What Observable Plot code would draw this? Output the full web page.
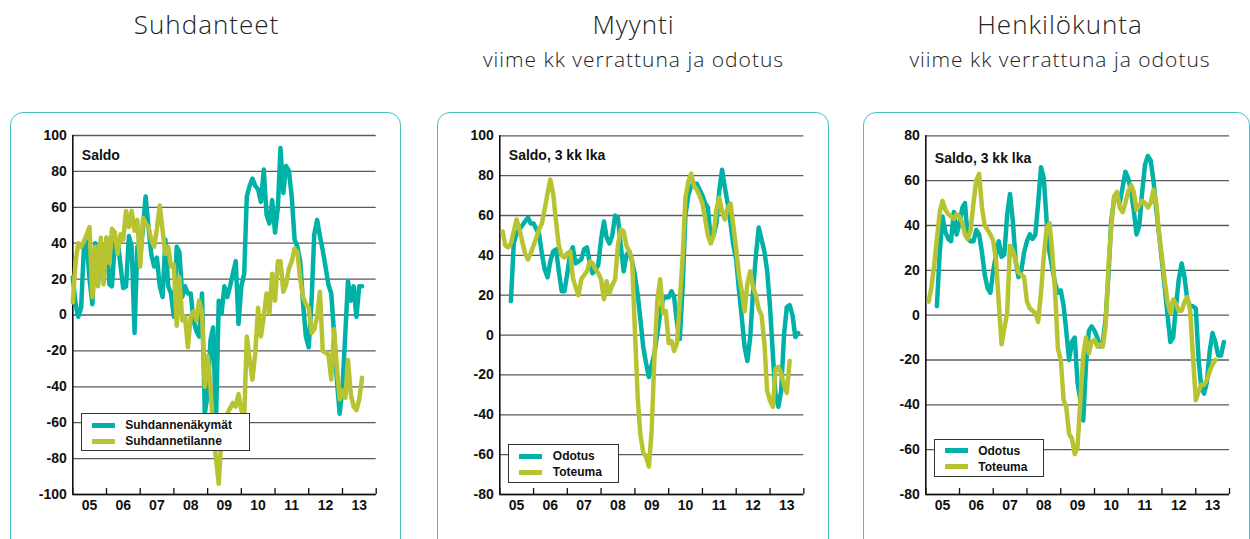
<!DOCTYPE html>
<html>
<head>
<meta charset="utf-8">
<script src="https://cdn.jsdelivr.net/npm/d3@7"></script>
<script src="https://cdn.jsdelivr.net/npm/@observablehq/plot@0.6"></script>
<style>
  html, body { margin: 0; padding: 0; background: #fff; }
  body { width: 1250px; height: 539px; overflow: hidden; position: relative; font-family: "Liberation Sans", Arial, sans-serif; }
  .title { position: absolute; font-family: "Open Sans", sans-serif; font-weight: 300; color: #222; text-align: center; white-space: nowrap; transform: translateX(-50%); letter-spacing: 1px; }
  .t1 { font-size: 26px; line-height: 30px; top: 9px; }
  .t2 { font-size: 21px; line-height: 24px; top: 47px; }
  .box { position: absolute; top: 111.5px; height: 460px; border: 1.5px solid #45c2c0; border-radius: 13px; box-sizing: border-box; z-index: 5; pointer-events: none; }
  .chart { position: absolute; top: 100px; }
  .legend { position: absolute; background: #fff; border: 1.5px solid #333; box-sizing: border-box; z-index: 4; }
  .sw { position: absolute; height: 5px; width: 23px; }
  .lt { position: absolute; font: bold 12px "Liberation Sans", Arial, sans-serif; color: #111; line-height: 14px; white-space: nowrap; }
</style>
</head>
<body>
<div id="root"></div>
<script>
// ---------- data ----------
const yearLabels = ["05", "06", "07", "08", "09", "10", "11", "12", "13"];
const titles = ["Suhdanteet", "Myynti", "Henkilökunta"];
const subtitles = ["", "viime kk verrattuna ja odotus", "viime kk verrattuna ja odotus"];
const saldoLabels = ["Saldo", "Saldo, 3 kk lka", "Saldo, 3 kk lka"];
const legend1 = ["Suhdannenäkymät", "Suhdannetilanne"];
const legend2 = ["Odotus", "Toteuma"];

// monthly values; index 0 = the start month counted from Jan 2005
const suhdannenakymatStart = 0;
const suhdannenakymat = [21, 6, -1, 4, 37, 41, 20, 6, 40, 17, 40, 23,
  43, 17, 16, 40, 42, 28, 15, 16, 44, 38, -10, 38,
  32, 49, 66, 49, 34, 27, 32, 16, 10, 42, 16, 12,
  -1, 38, 35, 10, 16, 12, 12, -3, -9, -12, 12, -55,
  -44, -14, -7, -60, 8, 1, 16, 10, 16, 23, 30, -5,
  16, 23, 66, 72, 76, 72, 70, 63, 81, 56, 51, 64,
  46, 60, 93, 68, 83, 80, 66, 42, 38, 30, 6, -12,
  -18, 8, 45, 53, 44, 36, 27, 17, 12, -10, -36, -55,
  -40, -10, 19, 8, 16, -1, 16, 16];
const suhdannetilanneStart = 0;
const suhdannetilanne = [7, 30, 40, 38, 41, 45, 49, 10, 38, 16, 43, 17,
  43, 29, 48, 46, 34, 45, 42, 58, 49, 58, 47, 53,
  27, 54, 51, 49, 42, 38, 48, 61, 47, 34, 38, 27,
  28, -6, 21, -3, -1, -18, -1, 2, -3, 8, 1, -40,
  -23, -40, -64, -80, -94, -66, -60, -55, -52, -49, -51, -44,
  -53, -57, -12, -25, -36, -21, 4, -12, -1, 12, 1, 23,
  8, 30, 30, 13, 17, 26, 30, 37, 35, 20, 10, 6,
  4, -10, -8, -1, 13, -20, -21, -22, -36, -8, -29, -47,
  -42, -46, -25, -44, -51, -53, -47, -35];

const myyntiOdotusStart = 4;
const myyntiOdotus = [17, 46, 51, 53, 55, 57, 59, 56,
  56, 53, 51, 41, 33, 29, 37, 42, 43, 32, 22, 22,
  31, 41, 44, 36, 37, 38, 43, 44, 36, 31, 33, 35,
  48, 57, 49, 46, 50, 60, 59, 45, 32, 40, 42, 37,
  30, 20, 8, -6, -14, -21, -15, -9, 1, 11, 18, 19,
  19, 22, 19, 6, -2, 24, 60, 70, 75, 76, 76, 73,
  70, 66, 64, 48, 50, 56, 72, 83, 74, 66, 56, 45,
  38, 22, 9, -6, -13, -1, 22, 40, 54, 48, 42, 32,
  14, -10, -30, -36, -28, 0, 14, 15, 10, -1, 1];
const myyntiToteumaStart = 1;
const myyntiToteuma = [52, 45, 44, 46, 52, 58, 53, 47, 41, 38, 41,
  45, 49, 53, 56, 63, 71, 78, 71, 57, 45, 40, 39,
  41, 42, 29, 24, 20, 28, 30, 32, 37, 36, 33, 31,
  28, 18, 27, 21, 25, 28, 45, 53, 52, 45, 42, 38,
  2, -32, -50, -59, -61, -66, -48, -10, 18, 28, 11, 12,
  -4, -3, -8, -4, 17, 39, 69, 77, 81, 75, 73, 70,
  66, 58, 50, 46, 50, 63, 69, 62, 58, 64, 66, 55,
  43, 30, 22, 12, 26, 32, 24, 20, 13, 10, -4, -28,
  -33, -36, -17, -16, -19, -25, -29, -13];

const henkOdotusStart = 4;
const henkOdotus = [4, 28, 44, 37, 34, 33, 46, 36,
  41, 48, 50, 34, 33, 33, 38, 36, 28, 18, 12, 10,
  20, 27, 33, 26, 27, 45, 54, 42, 24, 17, 20, 28,
  33, 36, 34, 36, 50, 66, 61, 42, 28, 21, 14, 10,
  11, 4, -7, -20, -12, -10, -30, -38, -47, -22, -7, -5,
  -7, -10, -14, -12, -2, 18, 42, 52, 52, 50, 57, 64,
  61, 55, 47, 36, 40, 55, 67, 71, 69, 60, 47, 36,
  24, 12, 0, -12, -10, 4, 16, 23, 17, 7, 4, 4,
  3, -20, -32, -35, -30, -16, -8, -12, -18, -18, -12];
const henkToteumaStart = 1;
const henkToteuma = [6, 12, 22, 34, 46, 51, 47, 45, 44, 43, 45,
  44, 41, 36, 34, 38, 50, 60, 63, 48, 40, 38, 36,
  33, 24, 6, -13, -6, 1, 31, 29, 24, 19, 18, 17,
  6, 3, 2, 1, -3, 10, 26, 39, 41, 28, 10, -15,
  -20, -38, -41, -53, -55, -62, -59, -38, -18, -10, -17, -12,
  -11, -14, -13, -14, -5, 22, 39, 53, 55, 48, 46, 50,
  55, 58, 55, 47, 49, 51, 50, 48, 50, 56, 50, 36,
  26, 15, 6, 1, 7, 5, 2, 2, 6, 8, 2, -18,
  -38, -34, -31, -31, -29, -25, -22, -20];

// ---------- helpers ----------
const TEAL = "#00b1a8";
const LIME = "#b8c332";
const toRows = (start, values) => values.map((v, i) => ({date: new Date(Date.UTC(2005, start + i, 1)), value: v}));
const yearTicks = d3.range(2005, 2015).map(y => new Date(Date.UTC(y, 0, 1)));
const yearMids = d3.range(2005, 2014).map(y => new Date(Date.UTC(y, 6, 1)));

const panels = [
  {left: 0, width: 410, mL: 72.3, mR: 34.3, mT: 35, mB: 45, y: [-100, 100], box: [10, 391],
   a: toRows(suhdannenakymatStart, suhdannenakymat), b: toRows(suhdannetilanneStart, suhdannetilanne),
   labelDy: 20, legend: legend1, lg: {x: 80.7, y: 413.3, w: 169, h: 38}, titleX: 206.5},
  {left: 430, width: 410, mL: 69.3, mR: 36.7, mT: 35.3, mB: 45, y: [-80, 100], box: [437, 392],
   a: toRows(myyntiOdotusStart, myyntiOdotus), b: toRows(myyntiToteumaStart, myyntiToteuma),
   labelDy: 20, legend: legend2, lg: {x: 508.3, y: 444.3, w: 110.5, h: 38.5}, titleX: 633.5},
  {left: 855, width: 395, mL: 70.3, mR: 21, mT: 35.3, mB: 45, y: [-80, 80], box: [863, 387],
   a: toRows(henkOdotusStart, henkOdotus), b: toRows(henkToteumaStart, henkToteuma),
   labelDy: 23, legend: legend2, lg: {x: 933.7, y: 438.7, w: 110.6, h: 38}, titleX: 1060}
];

const root = document.getElementById("root");

panels.forEach((p, k) => {
  // titles
  const t = document.createElement("div");
  t.className = "title t1"; t.style.left = p.titleX + "px"; t.textContent = titles[k];
  root.appendChild(t);
  if (subtitles[k]) {
    const s = document.createElement("div");
    s.className = "title t2"; s.style.left = p.titleX + "px"; s.textContent = subtitles[k];
    root.appendChild(s);
  }
  // rounded frame
  const bx = document.createElement("div");
  bx.className = "box"; bx.style.left = p.box[0] + "px"; bx.style.width = p.box[1] + "px";
  root.appendChild(bx);

  const height = 439;
  const innerH = height - p.mT - p.mB;
  const yTicks = d3.range(p.y[0], p.y[1] + 1, 20);

  const chart = Plot.plot({
    width: p.width,
    height,
    marginLeft: p.mL,
    marginRight: p.mR,
    marginTop: p.mT,
    marginBottom: p.mB,
    x: {type: "utc", domain: [yearTicks[0], yearTicks[yearTicks.length - 1]], axis: null},
    y: {domain: p.y, axis: null},
    style: {background: "transparent", fontFamily: "'Liberation Sans', Arial, sans-serif", fontSize: "14px", fontWeight: "bold", color: "#111", overflow: "visible"},
    marks: [
      Plot.gridY(yTicks, {stroke: "#5a5a5a", strokeOpacity: 1, strokeWidth: 1.3}),
      Plot.axisY(yTicks, {label: null, tickSize: 0, tickPadding: 6, tickFormat: d => String(d), fontSize: 14, fontWeight: "bold"}),
      Plot.axisX(yearMids, {label: null, tickSize: 0, tickPadding: 6, tickFormat: d => yearLabels[d.getUTCFullYear() - 2005], fontSize: 14, fontWeight: "bold"}),
      Plot.ruleX(yearTicks, {x: d => d, insetTop: innerH - 6, stroke: "#111", strokeWidth: 1.3}),
      Plot.ruleY([p.y[0]], {stroke: "#111", strokeWidth: 1.6}),
      Plot.ruleX([yearTicks[0]], {stroke: "#111", strokeWidth: 1.6}),
      Plot.line(p.a, {x: "date", y: "value", stroke: TEAL, strokeWidth: 4.5}),
      Plot.line(p.b, {x: "date", y: "value", stroke: LIME, strokeWidth: 4.5}),
      Plot.text([saldoLabels[k]], {frameAnchor: "top-left", dx: 9, dy: p.labelDy, textAnchor: "start", lineAnchor: "middle", fontSize: 14, fontWeight: "bold", fill: "#111"})
    ]
  });
  chart.classList.add("chart");
  chart.style.left = p.left + "px";
  root.appendChild(chart);

  // legend
  const lg = document.createElement("div");
  lg.className = "legend";
  Object.assign(lg.style, {left: p.lg.x + "px", top: p.lg.y + "px", width: p.lg.w + "px", height: p.lg.h + "px"});
  [TEAL, LIME].forEach((c, i) => {
    const sw = document.createElement("div");
    sw.className = "sw";
    Object.assign(sw.style, {left: "10px", top: (8.5 + i * 16) + "px", background: c});
    lg.appendChild(sw);
    const tx = document.createElement("div");
    tx.className = "lt";
    Object.assign(tx.style, {left: "43.5px", top: (4 + i * 16) + "px"});
    tx.textContent = p.legend[i];
    lg.appendChild(tx);
  });
  root.appendChild(lg);
});
</script>
</body>
</html>
